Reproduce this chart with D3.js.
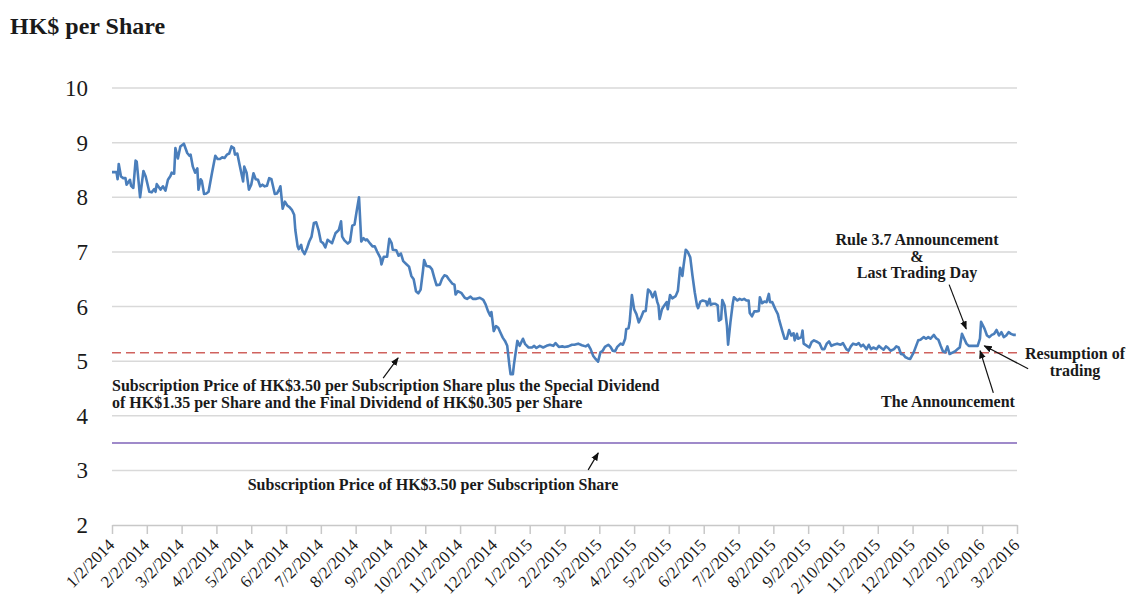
<!DOCTYPE html>
<html>
<head>
<meta charset="UTF-8">
<style>
body, html {
    margin: 0;
    padding: 0;
    width: 100%;
    height: 100%;
    overflow: hidden;
    background-color: #ffffff;
}
svg text {
    font-family: "Liberation Serif", "Times New Roman", serif;
}
</style>
</head>
<body>
<svg id="chart" width="1126" height="594"></svg>

<script src="https://cdn.jsdelivr.net/npm/d3@7"></script>
<script>

// share price, HK$
const priceDates = [
    "2014-01-02","2014-01-06","2014-01-07","2014-01-08","2014-01-10","2014-01-12","2014-01-14","2014-01-15",
    "2014-01-18","2014-01-19","2014-01-21","2014-01-23","2014-01-24","2014-01-27","2014-01-30","2014-02-01",
    "2014-02-04","2014-02-06","2014-02-08","2014-02-09","2014-02-10","2014-02-13","2014-02-15","2014-02-17",
    "2014-02-19","2014-02-21","2014-02-22","2014-02-24","2014-02-25","2014-02-27","2014-03-01","2014-03-04",
    "2014-03-07","2014-03-09","2014-03-10","2014-03-12","2014-03-14","2014-03-16","2014-03-17","2014-03-19",
    "2014-03-20","2014-03-22","2014-03-24","2014-03-26","2014-03-29","2014-04-01","2014-04-03","2014-04-05",
    "2014-04-07","2014-04-09","2014-04-11","2014-04-13","2014-04-15","2014-04-17","2014-04-18","2014-04-20",
    "2014-04-22","2014-04-25","2014-04-26","2014-04-28","2014-04-30","2014-05-02","2014-05-04","2014-05-06",
    "2014-05-08","2014-05-10","2014-05-12","2014-05-14","2014-05-16","2014-05-18","2014-05-20","2014-05-23",
    "2014-05-25","2014-05-27","2014-05-28","2014-05-30","2014-06-01","2014-06-03","2014-06-05","2014-06-07",
    "2014-06-09","2014-06-10","2014-06-12","2014-06-13","2014-06-15","2014-06-16","2014-06-18","2014-06-20",
    "2014-06-22","2014-06-24","2014-06-26","2014-06-28","2014-06-30","2014-07-02","2014-07-04","2014-07-06",
    "2014-07-08","2014-07-10","2014-07-12","2014-07-15","2014-07-18","2014-07-20","2014-07-21","2014-07-23",
    "2014-07-26","2014-07-28","2014-07-30","2014-08-01","2014-08-03","2014-08-05","2014-08-07","2014-08-09",
    "2014-08-11","2014-08-12","2014-08-15","2014-08-17","2014-08-19","2014-08-21","2014-08-24","2014-08-25",
    "2014-08-27","2014-08-30","2014-09-01","2014-09-03","2014-09-04","2014-09-07","2014-09-09","2014-09-11",
    "2014-09-13","2014-09-16","2014-09-18","2014-09-20","2014-09-22","2014-09-24","2014-09-26","2014-09-28",
    "2014-09-30","2014-10-01","2014-10-03","2014-10-06","2014-10-08","2014-10-10","2014-10-12","2014-10-15",
    "2014-10-17","2014-10-19","2014-10-21","2014-10-23","2014-10-26","2014-10-28","2014-10-29","2014-10-31",
    "2014-11-03","2014-11-06","2014-11-08","2014-11-11","2014-11-13","2014-11-16","2014-11-19","2014-11-22",
    "2014-11-24","2014-11-26","2014-11-28","2014-11-29","2014-12-01","2014-12-03","2014-12-05","2014-12-07",
    "2014-12-09","2014-12-11","2014-12-13","2014-12-15","2014-12-16","2014-12-18","2014-12-19","2014-12-22",
    "2014-12-24","2014-12-27","2014-12-29","2015-01-01","2015-01-04","2015-01-06","2015-01-08","2015-01-11",
    "2015-01-14","2015-01-17","2015-01-20","2015-01-23","2015-01-25","2015-01-28","2015-01-31","2015-02-02",
    "2015-02-05","2015-02-08","2015-02-10","2015-02-13","2015-02-16","2015-02-19","2015-02-21","2015-02-23",
    "2015-02-25","2015-02-27","2015-03-01","2015-03-03","2015-03-05","2015-03-07","2015-03-10","2015-03-12",
    "2015-03-14","2015-03-16","2015-03-18","2015-03-21","2015-03-23","2015-03-25","2015-03-26","2015-03-28",
    "2015-03-29","2015-03-31","2015-04-02","2015-04-04","2015-04-06","2015-04-08","2015-04-10","2015-04-12",
    "2015-04-14","2015-04-16","2015-04-18","2015-04-20","2015-04-22","2015-04-23","2015-04-24","2015-04-26",
    "2015-04-28","2015-04-30","2015-05-01","2015-05-03","2015-05-05","2015-05-08","2015-05-10","2015-05-12",
    "2015-05-14","2015-05-15","2015-05-17","2015-05-19","2015-05-21","2015-05-23","2015-05-25","2015-05-27",
    "2015-05-28","2015-05-30","2015-06-01","2015-06-04","2015-06-05","2015-06-07","2015-06-08","2015-06-10",
    "2015-06-12","2015-06-14","2015-06-15","2015-06-17","2015-06-18","2015-06-20","2015-06-22","2015-06-23",
    "2015-06-25","2015-06-27","2015-06-28","2015-07-01","2015-07-03","2015-07-05","2015-07-07","2015-07-09",
    "2015-07-11","2015-07-12","2015-07-14","2015-07-16","2015-07-18","2015-07-20","2015-07-21","2015-07-23",
    "2015-07-25","2015-07-27","2015-07-29","2015-07-30","2015-08-01","2015-08-04","2015-08-06","2015-08-07",
    "2015-08-10","2015-08-12","2015-08-14","2015-08-16","2015-08-18","2015-08-20","2015-08-21","2015-08-23",
    "2015-08-24","2015-08-27","2015-08-28","2015-08-29","2015-09-01","2015-09-03","2015-09-05","2015-09-07",
    "2015-09-10","2015-09-12","2015-09-14","2015-09-16","2015-09-18","2015-09-20","2015-09-22","2015-09-24",
    "2015-09-27","2015-09-30","2015-10-02","2015-10-05","2015-10-07","2015-10-09","2015-10-11","2015-10-14",
    "2015-10-16","2015-10-18","2015-10-20","2015-10-23","2015-10-25","2015-10-27","2015-10-29","2015-11-01",
    "2015-11-03","2015-11-05","2015-11-07","2015-11-09","2015-11-11","2015-11-13","2015-11-16","2015-11-18",
    "2015-11-20","2015-11-22","2015-11-24","2015-11-26","2015-11-28","2015-11-30","2015-12-03","2015-12-05",
    "2015-12-07","2015-12-09","2015-12-12","2015-12-14","2015-12-16","2015-12-18","2015-12-21","2015-12-23",
    "2015-12-25","2015-12-27","2015-12-29","2015-12-31","2016-01-02","2016-01-04","2016-01-07","2016-01-09",
    "2016-01-11","2016-01-13","2016-01-15","2016-01-17","2016-01-19","2016-01-21","2016-01-24","2016-01-27",
    "2016-01-29","2016-01-31","2016-02-01","2016-02-04","2016-02-06","2016-02-08","2016-02-10","2016-02-12",
    "2016-02-14","2016-02-16","2016-02-18","2016-02-20","2016-02-22","2016-02-24","2016-02-26","2016-02-28",
    "2016-03-01"
];

const prices = [
    8.46,8.46,8.33,8.61,8.38,8.35,8.35,8.23,
    8.32,8.21,8.17,8.67,8.65,8.00,8.48,8.38,
    8.10,8.09,8.15,8.10,8.24,8.14,8.20,8.12,
    8.32,8.39,8.45,8.43,8.90,8.71,8.93,8.98,
    8.81,8.76,8.78,8.56,8.45,8.53,8.14,8.33,
    8.30,8.06,8.07,8.10,8.44,8.76,8.70,8.70,
    8.73,8.72,8.78,8.80,8.93,8.90,8.78,8.80,
    8.59,8.29,8.56,8.45,8.14,8.23,8.44,8.33,
    8.32,8.20,8.23,8.20,8.21,8.35,8.33,8.06,
    8.07,8.15,8.20,7.79,7.92,7.85,7.82,7.77,
    7.68,7.40,7.10,7.05,7.13,7.03,6.96,7.06,
    7.19,7.28,7.53,7.54,7.40,7.19,7.16,7.08,
    7.22,7.19,7.16,7.34,7.40,7.56,7.28,7.21,
    7.15,7.19,7.48,7.50,7.76,8.00,7.19,7.25,
    7.21,7.23,7.15,7.10,7.10,7.01,6.89,6.77,
    6.91,6.91,7.24,7.16,7.04,7.03,6.93,6.97,
    6.83,6.77,6.73,6.56,6.50,6.28,6.24,6.31,
    6.65,6.85,6.74,6.73,6.68,6.53,6.39,6.40,
    6.51,6.57,6.56,6.50,6.42,6.40,6.22,6.28,
    6.25,6.16,6.14,6.18,6.14,6.14,6.16,6.12,
    6.04,5.92,5.83,5.90,5.55,5.64,5.61,5.52,
    5.43,5.37,5.28,4.91,4.76,4.76,4.94,5.37,
    5.28,5.41,5.31,5.25,5.25,5.28,5.24,5.28,
    5.25,5.28,5.30,5.28,5.33,5.26,5.27,5.26,
    5.27,5.30,5.30,5.32,5.29,5.27,5.30,5.22,
    5.10,5.04,4.99,5.16,5.19,5.26,5.30,5.26,
    5.19,5.18,5.26,5.32,5.30,5.41,5.59,5.60,
    5.71,6.21,5.95,5.86,5.71,5.80,5.91,5.92,
    6.31,6.27,6.17,6.27,6.08,6.02,5.77,5.95,
    6.02,6.08,5.95,6.21,6.15,6.19,6.29,6.71,
    6.56,6.74,7.04,6.99,6.90,6.56,6.26,6.02,
    5.97,6.09,6.11,6.09,6.02,6.14,6.03,6.05,
    6.05,6.02,5.74,5.77,6.12,6.02,5.65,5.30,
    5.71,6.05,6.17,6.11,6.14,6.12,6.14,6.11,
    6.11,5.88,5.82,5.91,5.91,5.92,6.17,6.06,
    6.09,6.08,6.23,6.08,6.08,5.94,5.86,5.77,
    5.55,5.41,5.41,5.57,5.47,5.51,5.38,5.50,
    5.41,5.44,5.56,5.32,5.28,5.25,5.35,5.38,
    5.35,5.32,5.22,5.22,5.32,5.36,5.28,5.30,
    5.32,5.30,5.33,5.22,5.19,5.27,5.32,5.30,
    5.33,5.27,5.30,5.22,5.30,5.22,5.25,5.22,
    5.28,5.24,5.21,5.27,5.24,5.19,5.22,5.27,
    5.25,5.13,5.12,5.07,5.05,5.04,5.16,5.27,
    5.38,5.39,5.44,5.41,5.44,5.41,5.48,5.42,
    5.39,5.28,5.18,5.16,5.27,5.13,5.16,5.18,
    5.22,5.25,5.50,5.41,5.32,5.28,5.28,5.28,
    5.28,5.41,5.72,5.59,5.47,5.44,5.48,5.50,
    5.57,5.47,5.53,5.44,5.47,5.53,5.50,5.48,
    5.48
];

const tickLabels = [
    "1/2/2014","2/2/2014","3/2/2014","4/2/2014","5/2/2014","6/2/2014","7/2/2014",
    "8/2/2014","9/2/2014","10/2/2014","11/2/2014","12/2/2014","1/2/2015","2/2/2015",
    "3/2/2015","4/2/2015","5/2/2015","6/2/2015","7/2/2015","8/2/2015","9/2/2015",
    "2/10/2015","11/2/2015","12/2/2015","1/2/2016","2/2/2016","3/2/2016"
];

const yTicks = [2, 3, 4, 5, 6, 7, 8, 9, 10];

const subscriptionPrice = 3.50;
const specialDividend = 1.35;
const finalDividend = 0.305;

// ---------------------------------------------------------------

const svg = d3.select("#chart");

const plotLeft = 112, plotRight = 1017, plotTop = 88, plotBottom = 525;

// months since 2 Jan 2014, each month the same width (like the original axis)
function monthPos(s) {
    let d = new Date(s + "T00:00:00Z");
    let yr = d.getUTCFullYear(), m = d.getUTCMonth();
    if (d.getUTCDate() < 2) { m -= 1; }
    let start = Date.UTC(yr, m, 2), next = Date.UTC(yr, m + 1, 2);
    return (yr - 2014) * 12 + m + (d.getTime() - start) / (next - start);
}

let x = d3.scaleLinear().domain([0, tickLabels.length - 1]).range([plotLeft, plotRight]);
let y = d3.scaleLinear().domain([2, 10]).range([plotBottom, plotTop]);

// title
svg.append("text")
    .attr("x", 10)
    .attr("y", 34)
    .attr("font-size", 24)
    .attr("font-weight", "bold")
    .attr("fill", "#1a1a1a")
    .text("HK$ per Share");

// gridlines
svg.append("g")
    .selectAll("line")
    .data(yTicks.filter(d => d > 2))
    .enter()
    .append("line")
    .attr("x1", plotLeft)
    .attr("x2", plotRight)
    .attr("y1", d => y(d))
    .attr("y2", d => y(d))
    .attr("stroke", "#d9d9d9")
    .attr("stroke-width", 1.5);

// y labels
svg.append("g")
    .selectAll("text")
    .data(yTicks)
    .enter()
    .append("text")
    .attr("x", 88)
    .attr("y", d => y(d))
    .attr("dy", "0.35em")
    .attr("text-anchor", "end")
    .attr("font-size", 23)
    .attr("fill", "#1a1a1a")
    .text(d => d);

// x axis
let xAxis = d3.axisBottom(x)
    .tickValues(tickLabels.map((d, i) => i))
    .tickFormat(i => tickLabels[i])
    .tickSize(9)
    .tickSizeOuter(0);

let gx = svg.append("g")
    .attr("transform", `translate(0,${plotBottom})`)
    .call(xAxis);

gx.select(".domain").attr("stroke", "#c8c8c8").attr("stroke-width", 1.5);
gx.selectAll(".tick line").attr("stroke", "#c8c8c8").attr("stroke-width", 1.5);
gx.selectAll(".tick text")
    .attr("font-family", "Liberation Serif, serif")
    .attr("font-size", 17)
    .attr("fill", "#1a1a1a")
    .attr("text-anchor", "end")
    .attr("x", 0)
    .attr("y", 0)
    .attr("dy", 0)
    .attr("transform", "translate(3,21) rotate(-45)");

// reference lines
let dividendLevel = subscriptionPrice + specialDividend + finalDividend;

svg.append("line")
    .attr("x1", plotLeft).attr("x2", plotRight)
    .attr("y1", y(dividendLevel)).attr("y2", y(dividendLevel))
    .attr("stroke", "#d0625e")
    .attr("stroke-width", 1.5)
    .attr("stroke-dasharray", "9,5");

svg.append("line")
    .attr("x1", plotLeft).attr("x2", plotRight)
    .attr("y1", y(subscriptionPrice)).attr("y2", y(subscriptionPrice))
    .attr("stroke", "#7f63b8")
    .attr("stroke-width", 1.5);

// price line
let line = d3.line()
    .x((d, i) => x(monthPos(priceDates[i])))
    .y(d => y(d));

svg.append("path")
    .datum(prices)
    .attr("fill", "none")
    .attr("stroke", "#4a7ebb")
    .attr("stroke-width", 2.6)
    .attr("stroke-linejoin", "round")
    .attr("d", line);

// arrows
svg.append("defs").append("marker")
    .attr("id", "arrow")
    .attr("viewBox", "0 0 10 10")
    .attr("refX", 9)
    .attr("refY", 5)
    .attr("markerWidth", 7)
    .attr("markerHeight", 7)
    .attr("orient", "auto")
    .append("path")
    .attr("d", "M0,1 L10,5 L0,9 z")
    .attr("fill", "#111");

// [from month, from value, to month, to value]
let arrows = [
    [24.05, 6.40, 24.54, 5.59],
    [26.32, 4.86, 25.06, 5.28],
    [25.32, 4.42, 24.94, 5.19],
    [7.79, 4.69, 8.22, 5.06],
    [13.68, 3.01, 13.97, 3.32]
];

svg.append("g")
    .selectAll("line")
    .data(arrows)
    .enter()
    .append("line")
    .attr("x1", d => x(d[0]))
    .attr("y1", d => y(d[1]))
    .attr("x2", d => x(d[2]))
    .attr("y2", d => y(d[3]))
    .attr("stroke", "#111")
    .attr("stroke-width", 1.2)
    .attr("marker-end", "url(#arrow)");

// annotation texts
function note(lines, px, py, anchor) {
    let t = svg.append("text")
        .attr("font-size", 16)
        .attr("font-weight", "bold")
        .attr("fill", "#1a1a1a")
        .attr("text-anchor", anchor);
    lines.forEach((s, i) => {
        t.append("tspan")
            .attr("x", px)
            .attr("y", py + i * 16.5)
            .text(s);
    });
}

note(["Rule 3.7 Announcement", "&", "Last Trading Day"], 917, 245, "middle");
note(["Resumption of", "trading"], 1075, 359, "middle");
note(["The Announcement"], 948, 407, "middle");
note(["Subscription Price of HK$3.50 per Subscription Share plus the Special Dividend",
      "of HK$1.35 per Share and the Final Dividend of HK$0.305 per Share"], 112, 391, "start");
note(["Subscription Price of HK$3.50 per Subscription Share"], 433, 490, "middle");

</script>
</body>
</html>
